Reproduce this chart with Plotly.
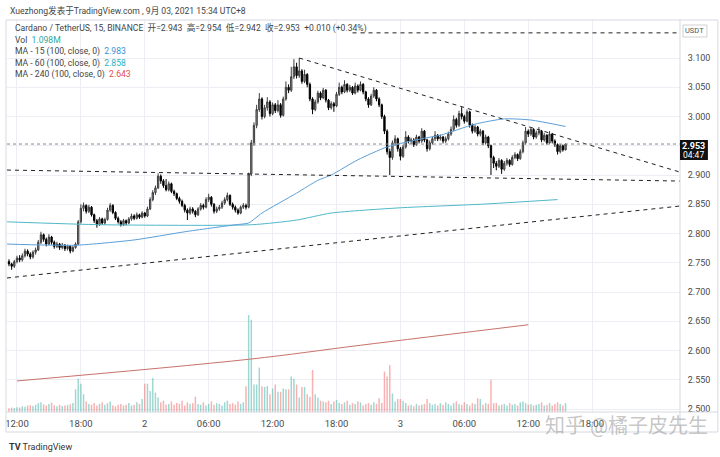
import plotly.graph_objects as go
import pandas as pd

# ---------------- data ----------------
start_time = "2021-09-01 11:15"
n_bars = 210
times = pd.date_range(start=start_time, periods=n_bars, freq="15min")

open_ = [2.752,2.748,2.744,2.752,2.758,2.755,2.762,2.770,2.765,2.760,
         2.768,2.772,2.785,2.798,2.790,2.782,2.794,2.785,2.778,2.782,
         2.776,2.780,2.774,2.778,2.770,2.776,2.782,2.820,2.843,2.848,
         2.838,2.845,2.832,2.822,2.815,2.825,2.818,2.824,2.840,2.848,
         2.836,2.826,2.820,2.815,2.822,2.818,2.825,2.830,2.826,2.832,
         2.828,2.835,2.830,2.842,2.858,2.870,2.878,2.898,2.890,2.882,
         2.875,2.885,2.872,2.868,2.860,2.855,2.848,2.840,2.835,2.842,
         2.838,2.832,2.842,2.848,2.845,2.858,2.862,2.850,2.838,2.842,
         2.845,2.852,2.858,2.865,2.850,2.845,2.840,2.835,2.845,2.848,
         2.845,2.902,2.955,2.985,3.012,3.030,3.000,3.015,3.025,3.005,
         3.020,3.010,3.020,3.002,3.030,3.050,3.045,3.068,3.085,3.070,
         3.078,3.060,3.072,3.055,3.030,3.012,3.025,3.040,3.032,3.045,
         3.028,3.015,3.022,3.018,3.038,3.050,3.042,3.055,3.045,3.050,
         3.040,3.052,3.045,3.055,3.042,3.030,3.020,3.035,3.045,3.030,
         3.020,3.000,2.975,2.940,2.930,2.955,2.962,2.945,2.932,2.948,
         2.965,2.958,2.960,2.952,2.965,2.958,2.975,2.960,2.945,2.955,
         2.962,2.968,2.962,2.965,2.958,2.962,2.970,2.978,2.995,2.985,
         3.005,3.000,2.992,3.008,2.985,2.975,2.982,2.970,2.975,2.955,
         2.965,2.950,2.930,2.920,2.915,2.925,2.910,2.920,2.925,2.918,
         2.930,2.935,2.928,2.940,2.955,2.975,2.970,2.978,2.965,2.972,
         2.975,2.960,2.968,2.955,2.970,2.958,2.952,2.940,2.950,2.943]

close = [2.748,2.744,2.752,2.758,2.755,2.762,2.770,2.765,2.760,2.768,
         2.772,2.785,2.798,2.790,2.782,2.794,2.785,2.778,2.782,2.776,
         2.780,2.774,2.778,2.770,2.776,2.782,2.820,2.843,2.848,2.838,
         2.845,2.832,2.822,2.815,2.825,2.818,2.824,2.840,2.848,2.836,
         2.826,2.820,2.815,2.822,2.818,2.825,2.830,2.826,2.832,2.828,
         2.835,2.830,2.842,2.858,2.870,2.878,2.898,2.890,2.882,2.875,
         2.885,2.872,2.868,2.860,2.855,2.848,2.840,2.835,2.842,2.838,
         2.832,2.842,2.848,2.845,2.858,2.862,2.850,2.838,2.842,2.845,
         2.852,2.858,2.865,2.850,2.845,2.840,2.835,2.845,2.848,2.845,
         2.902,2.955,2.985,3.012,3.030,3.000,3.015,3.025,3.005,3.020,
         3.010,3.020,3.002,3.030,3.050,3.045,3.068,3.085,3.070,3.078,
         3.060,3.072,3.055,3.030,3.012,3.025,3.040,3.032,3.045,3.028,
         3.015,3.022,3.018,3.038,3.050,3.042,3.055,3.045,3.050,3.040,
         3.052,3.045,3.055,3.042,3.030,3.020,3.035,3.045,3.030,3.020,
         3.000,2.975,2.940,2.930,2.955,2.962,2.945,2.932,2.948,2.965,
         2.958,2.960,2.952,2.965,2.958,2.975,2.960,2.945,2.955,2.962,
         2.968,2.962,2.965,2.958,2.962,2.970,2.978,2.995,2.985,3.005,
         3.000,2.992,3.008,2.985,2.975,2.982,2.970,2.975,2.955,2.965,
         2.950,2.930,2.920,2.915,2.925,2.910,2.920,2.925,2.918,2.930,
         2.935,2.928,2.940,2.955,2.975,2.970,2.978,2.965,2.972,2.975,
         2.960,2.968,2.955,2.970,2.958,2.952,2.940,2.950,2.943,2.953]

high = [2.756,2.750,2.755,2.762,2.763,2.766,2.774,2.773,2.768,2.771,
        2.776,2.789,2.803,2.800,2.793,2.799,2.796,2.788,2.786,2.784,
        2.784,2.782,2.781,2.780,2.779,2.785,2.823,2.850,2.853,2.850,
        2.849,2.847,2.834,2.825,2.828,2.827,2.827,2.844,2.852,2.850,
        2.838,2.829,2.823,2.825,2.824,2.828,2.834,2.833,2.836,2.834,
        2.838,2.837,2.846,2.862,2.874,2.882,2.903,2.901,2.893,2.893,
        2.889,2.887,2.875,2.870,2.863,2.858,2.851,2.843,2.846,2.845,
        2.840,2.845,2.852,2.851,2.862,2.868,2.864,2.852,2.846,2.849,
        2.856,2.862,2.870,2.867,2.853,2.848,2.843,2.848,2.852,2.851,
        2.904,2.960,2.990,3.020,3.040,3.033,3.020,3.033,3.028,3.024,
        3.023,3.028,3.023,3.034,3.060,3.055,3.085,3.098,3.092,3.100,
        3.081,3.080,3.074,3.058,3.033,3.029,3.044,3.043,3.049,3.047,
        3.030,3.026,3.025,3.042,3.058,3.053,3.062,3.057,3.054,3.052,
        3.058,3.055,3.060,3.057,3.044,3.033,3.039,3.050,3.047,3.033,
        3.022,3.003,2.978,2.945,2.959,2.968,2.964,2.948,2.952,2.975,
        2.968,2.964,2.963,2.969,2.967,2.980,2.977,2.962,2.959,2.966,
        2.975,2.970,2.969,2.967,2.966,2.974,2.983,3.002,2.998,3.010,
        3.016,3.003,3.012,3.010,2.988,2.986,2.984,2.979,2.977,2.969,
        2.967,2.952,2.933,2.924,2.929,2.927,2.924,2.929,2.927,2.934,
        2.939,2.937,2.944,2.959,2.982,2.978,2.981,2.980,2.976,2.982,
        2.977,2.972,2.970,2.975,2.972,2.961,2.954,2.953,2.952,2.954]

low = [2.744,2.738,2.741,2.749,2.751,2.752,2.759,2.761,2.756,2.757,
       2.764,2.770,2.782,2.786,2.778,2.780,2.781,2.774,2.775,2.772,
       2.773,2.770,2.771,2.766,2.768,2.774,2.780,2.817,2.838,2.834,
       2.835,2.829,2.818,2.810,2.813,2.815,2.815,2.822,2.837,2.833,
       2.823,2.817,2.812,2.813,2.814,2.816,2.822,2.823,2.824,2.825,
       2.826,2.827,2.828,2.840,2.855,2.866,2.876,2.885,2.878,2.872,
       2.872,2.869,2.864,2.857,2.851,2.845,2.836,2.823,2.832,2.834,
       2.828,2.830,2.839,2.841,2.843,2.854,2.846,2.834,2.835,2.839,
       2.842,2.849,2.855,2.847,2.841,2.836,2.832,2.833,2.842,2.841,
       2.843,2.898,2.950,2.980,3.008,2.995,2.997,3.010,3.000,3.002,
       3.006,3.007,2.998,3.000,3.027,3.040,3.042,3.064,3.065,3.066,
       3.056,3.057,3.050,3.026,3.004,3.009,3.022,3.028,3.030,3.024,
       3.011,3.012,3.008,3.016,3.035,3.038,3.040,3.041,3.042,3.037,
       3.038,3.041,3.043,3.038,3.026,3.015,3.018,3.032,3.026,3.016,
       2.996,2.970,2.935,2.900,2.926,2.950,2.940,2.925,2.929,2.945,
       2.954,2.953,2.948,2.950,2.954,2.955,2.956,2.940,2.942,2.952,
       2.958,2.958,2.959,2.954,2.955,2.959,2.967,2.975,2.981,2.982,
       2.995,2.988,2.990,2.981,2.971,2.972,2.966,2.966,2.951,2.952,
       2.946,2.900,2.912,2.908,2.912,2.902,2.907,2.916,2.914,2.916,
       2.927,2.924,2.926,2.937,2.952,2.965,2.967,2.961,2.962,2.968,
       2.956,2.957,2.952,2.953,2.954,2.948,2.935,2.937,2.940,2.942]

volume = [0.45,0.55,0.50,0.60,0.55,0.70,0.65,0.80,0.85,0.75,
          0.90,1.10,1.20,0.95,0.80,1.00,1.15,0.85,0.70,0.90,0.75,0.80,0.85,0.95,1.10,
          2.8,4.1,3.5,2.2,
          1.3,1.0,0.9,1.1,0.8,1.0,1.2,0.9,1.1,1.3,0.8,0.7,0.9,1.0,0.8,0.9,1.1,0.8,0.9,1.2,1.0,
          1.6,3.5,3.5,2.6,4.2,2.4,1.8,
          1.2,1.4,0.9,1.0,1.3,0.9,1.1,1.0,1.4,0.8,1.2,1.0,1.1,1.9,1.0,0.9,1.2,0.8,1.0,1.3,
          0.9,1.1,1.0,0.8,1.2,1.4,1.0,1.1,0.9,1.3,1.0,1.2,
          3.2,12.0,11.4,3.4,3.4,5.5,3.2,
          3.1,3.2,2.2,2.9,3.4,2.5,2.5,2.9,2.8,2.8,4.4,4.1,3.4,1.8,3.1,3.1,2.2,1.9,5.2,2.2,
          1.8,1.4,1.3,
          1.2,1.4,1.0,1.3,1.5,1.1,1.0,1.2,1.4,0.9,1.1,1.0,1.3,1.2,0.8,1.0,1.1,0.9,1.2,1.0,
          1.7,1.1,5.0,4.4,5.8,2.3,1.3,1.6,1.6,1.4,1.1,
          0.8,0.9,0.7,1.0,0.8,0.9,1.0,1.6,1.1,
          0.9,1.0,0.8,1.1,0.9,1.2,1.0,0.8,1.1,1.3,1.0,0.9,1.2,1.0,0.8,1.1,1.0,
          1.7,1.6,0.9,1.1,1.0,4.0,1.1,1.1,
          0.8,0.9,1.0,0.8,1.1,0.9,1.0,0.8,1.2,1.3,1.1,0.9,1.0,0.8,0.9,1.0,1.2,0.8,0.9,1.1,
          0.8,1.0,1.2,1.0,0.8,1.098]

ma15_time = ["2021-09-01 11:00","2021-09-01 17:30","2021-09-01 23:00","2021-09-02 03:45",
             "2021-09-02 08:30","2021-09-02 09:45","2021-09-02 11:00","2021-09-02 14:15",
             "2021-09-02 16:15","2021-09-02 17:30","2021-09-02 20:00","2021-09-02 22:45",
             "2021-09-03 02:15","2021-09-03 03:45","2021-09-03 07:00","2021-09-03 09:45",
             "2021-09-03 12:15","2021-09-03 15:30"]
ma15_val = [2.782,2.780,2.789,2.803,2.815,2.818,2.835,2.869,2.891,2.900,2.926,2.948,
            2.963,2.968,2.987,2.996,2.994,2.983]

ma60_time = ["2021-09-01 11:00","2021-09-01 20:00","2021-09-02 10:00","2021-09-02 14:15",
             "2021-09-02 17:30","2021-09-03 00:00","2021-09-03 07:30","2021-09-03 14:45"]
ma60_val = [2.820,2.815,2.815,2.823,2.835,2.844,2.850,2.858]

ma240_time = ["2021-09-01 12:00","2021-09-02 09:45","2021-09-02 20:15","2021-09-03 12:00"]
ma240_val = [2.548,2.585,2.609,2.644]

# drawn trend lines (time, price)
x_left = "2021-09-01 11:03:50"
x_right = "2021-09-04 02:14:46"
resist_time = ["2021-09-02 14:30", x_right]
resist_price = [3.100, 2.905]
support_h_time = [x_left, x_right]
support_h_price = [2.9085, 2.8897]
support_r_time = [x_left, x_right]
support_r_price = [2.724, 2.847]
top_time = ["2021-09-02 19:30", x_right]
top_price = [3.143, 3.143]
last_price = 2.953

time_ticks = ["2021-09-01 12:00","2021-09-01 18:00","2021-09-02 00:00","2021-09-02 06:00",
              "2021-09-02 12:00","2021-09-02 18:00","2021-09-03 00:00","2021-09-03 06:00",
              "2021-09-03 12:00","2021-09-03 18:00"]
time_labels = ["12:00","18:00","2","06:00","12:00","18:00","3","06:00","12:00","18:00"]
price_ticks = [2.50,2.55,2.60,2.65,2.70,2.75,2.80,2.85,2.90,2.95,3.00,3.05,3.10]
# 2.950 is hidden behind the last-price tag in the reference
price_labels = ["2.500","2.550","2.600","2.650","2.700","2.750","2.800","2.850","2.900",
                "","3.000","3.050","3.100"]

# ---------------- figure ----------------
W, H = 720, 457
ML, MR, MT, MB = 5, 40, 20, 45
PW, PH = W - ML - MR, H - MT - MB

def px(x):
    return (x - ML) / PW

def py(y):
    return (H - MB - y) / PH

FONT = "Roboto, Noto Sans CJK SC, sans-serif"
up_vol = "rgba(38,166,154,0.45)"
dn_vol = "rgba(239,83,80,0.45)"
vol_colors = [up_vol if c >= o else dn_vol for o, c in zip(open_, close)]

fig = go.Figure()
fig.add_trace(go.Bar(x=times, y=volume, marker=dict(color=vol_colors, line=dict(width=0)),
                     width=15 * 60 * 1000 * 0.55, yaxis="y", hoverinfo="skip"))
fig.add_trace(go.Candlestick(
    x=times, open=open_, high=high, low=low, close=close, yaxis="y2",
    increasing=dict(line=dict(color="#3c3c3c", width=1), fillcolor="#9c9c9c"),
    decreasing=dict(line=dict(color="#000000", width=1), fillcolor="#000000"),
    whiskerwidth=0, hoverinfo="skip"))
fig.add_trace(go.Scatter(x=ma240_time, y=ma240_val, yaxis="y2", mode="lines",
                         line=dict(color="#c9716a", width=1, shape="spline"), hoverinfo="skip"))
fig.add_trace(go.Scatter(x=ma60_time, y=ma60_val, yaxis="y2", mode="lines",
                         line=dict(color="#4fb8c9", width=1, shape="spline", smoothing=0.6),
                         hoverinfo="skip"))
fig.add_trace(go.Scatter(x=ma15_time, y=ma15_val, yaxis="y2", mode="lines",
                         line=dict(color="#5a9fd8", width=1, shape="spline", smoothing=0.6),
                         hoverinfo="skip"))
for tx, tyv in [(resist_time, resist_price), (support_h_time, support_h_price),
                (support_r_time, support_r_price), (top_time, top_price)]:
    fig.add_trace(go.Scatter(x=tx, y=tyv, yaxis="y2", mode="lines",
                             line=dict(color="#222222", width=1, dash="4px,4px"),
                             hoverinfo="skip", cliponaxis=True))

grid = "#eceef3"
fig.update_layout(
    width=W, height=H, margin=dict(l=ML, r=MR, t=MT, b=MB),
    paper_bgcolor="white", plot_bgcolor="white", showlegend=False,
    font=dict(family=FONT, color="#333333"),
    xaxis=dict(type="date", range=[x_left, x_right], tickvals=time_ticks, ticktext=time_labels,
               showgrid=True, gridcolor=grid, gridwidth=1, zeroline=False, showline=False,
               ticks="outside", ticklen=3, tickcolor="rgba(0,0,0,0)",
               tickfont=dict(family=FONT, size=9.5, color="#4a4a4a"),
               rangeslider=dict(visible=False), fixedrange=True),
    yaxis=dict(range=[0, 48.5], visible=False, showgrid=False, fixedrange=True),
    yaxis2=dict(overlaying="y", side="right", range=[2.4949, 3.165],
                tickvals=price_ticks, ticktext=price_labels, showgrid=True, gridcolor=grid,
                zeroline=False, showline=False, ticks="outside", ticklen=5,
                tickcolor="rgba(0,0,0,0)", tickfont=dict(family=FONT, size=9, color="#4a4a4a"),
                fixedrange=True),
)

border = "#d6d9e0"
shapes = [
    dict(type="line", xref="paper", yref="y2", x0=0, x1=1, y0=last_price, y1=last_price,
         line=dict(color="#8a8a8a", width=1, dash="dot")),
    dict(type="rect", xref="paper", yref="paper", x0=px(4), x1=px(718), y0=py(432), y1=py(20),
         line=dict(color=border, width=1)),
    dict(type="line", xref="paper", yref="paper", x0=1, x1=1, y0=py(432), y1=py(20),
         line=dict(color=border, width=1)),
    dict(type="line", xref="paper", yref="paper", x0=px(4), x1=px(718), y0=0, y1=0,
         line=dict(color=border, width=1)),
    dict(type="rect", xref="paper", yref="paper", x0=px(683), x1=px(707), y0=py(37), y1=py(25),
         line=dict(color="#d0d0d0", width=1), fillcolor="white"),
    dict(type="rect", xref="paper", yref="paper", x0=px(680), x1=px(708), y0=py(160), y1=py(140),
         line=dict(width=0), fillcolor="#111111"),
]
fig.update_layout(shapes=shapes)

def ann(x, y, text, size=10.5, color="#333333", anchor="left", **kw):
    fig.add_annotation(x=px(x), y=py(y), xref="paper", yref="paper", text=text,
                       showarrow=False, xanchor=anchor, yanchor="middle",
                       font=dict(family=FONT, size=size, color=color), **kw)

ann(6, 10, "Xuezhong发表于TradingView.com , 9月 03, 2021 15:34 UTC+8", size=8.6, color="#444444")
ann(11, 28, "Cardano / TetherUS, 15, BINANCE&nbsp; 开=2.943&nbsp; 高=2.954&nbsp; 低=2.942&nbsp; 收=2.953&nbsp; +0.010 (+0.34%)",
    size=8.6, color="#444444")
ann(11, 40, "Vol&nbsp; <span style='color:#2fa89c'>1.098M</span>", size=8.6, color="#444444")
ann(11, 52, "MA - 15 (100, close, 0)&nbsp; <span style='color:#3d8fd6'>2.983</span>", size=8.6, color="#444444")
ann(11, 63.5, "MA - 60 (100, close, 0)&nbsp; <span style='color:#2fb0c2'>2.858</span>", size=8.6, color="#444444")
ann(11, 75, "MA - 240 (100, close, 0)&nbsp; <span style='color:#e0504d'>2.643</span>", size=8.6, color="#444444")
ann(695, 31, "USDT", size=7.5, color="#555555", anchor="center")
ann(694, 145.5, "<b>2.953</b>", size=9, color="white", anchor="center")
ann(694, 154.5, "04:47", size=8.5, color="white", anchor="center")
ann(626, 426, "知乎 @橘子皮先生", size=20, color="rgba(150,150,150,0.55)", anchor="center")
ann(5, 447, "<b>TV</b> TradingView", size=9, color="#333333")

fig.write_html("out.html", config={"displayModeBar": False},
               post_script="document.body.style.margin='0';document.body.style.padding='0';")
